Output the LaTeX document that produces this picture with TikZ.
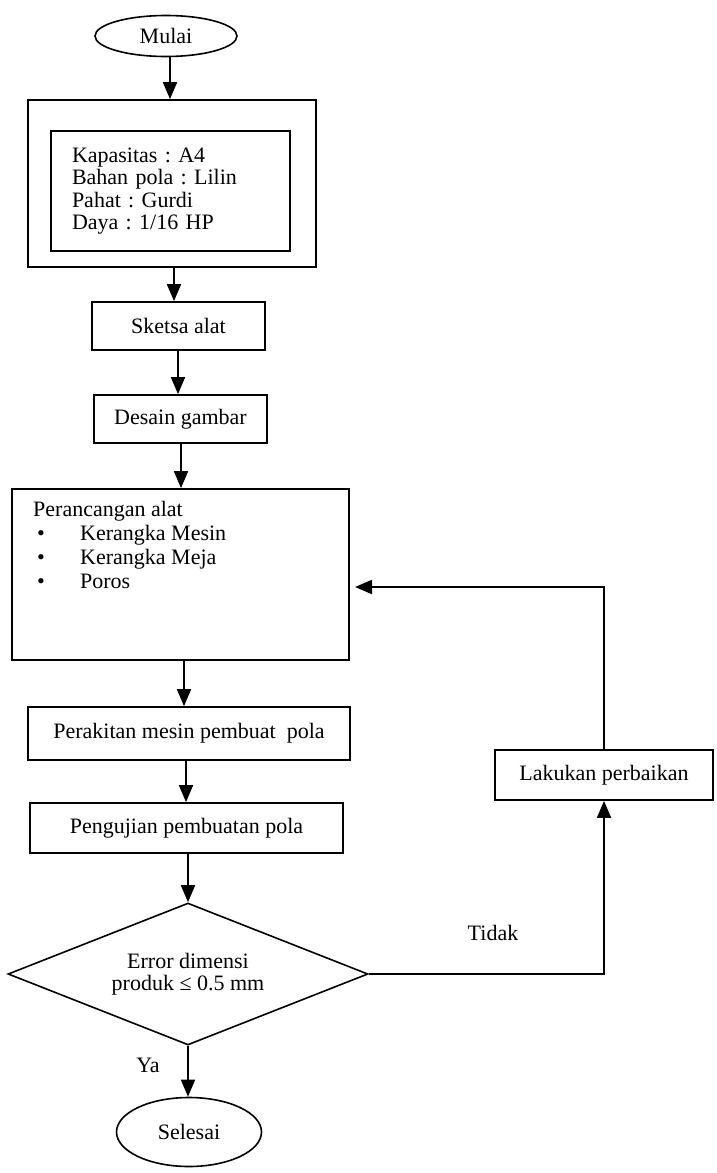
\documentclass[tikz,border=0pt]{standalone}
\usepackage{fontspec}
\setmainfont{Liberation Serif}
\usetikzlibrary{shapes.geometric,arrows.meta,calc}
\begin{document}
\frenchspacing
\begin{tikzpicture}[x=1pt,y=-1pt,
  every node/.style={font=\fontsize{22}{22.5}\selectfont},
  box/.style={draw,line width=1.8pt,rectangle,inner sep=0pt},
  term/.style={draw,line width=1.6pt,ellipse,inner sep=0pt},
  dec/.style={draw,line width=1.6pt,diamond,aspect=2.5,inner sep=0pt,align=center},
  arr/.style={line width=1.8pt,-{Triangle[length=17pt,width=14pt]}},
  lbl/.style={inner sep=0pt}]
\useasboundingbox (0,0) rectangle (716,1173);
\node[term,minimum width=142pt,minimum height=41pt] (mulai) at (166,36) {Mulai};
\node[box,minimum width=288pt,minimum height=167pt] (outer) at (172,183.5) {};
\node[box,minimum width=239pt,minimum height=120pt,align=left,text width=197pt] (inner) at (170.5,191)
  {Kapasitas : A4\\Bahan pola : Lilin\\Pahat : Gurdi\\Daya : 1/16 HP};
\node[box,minimum width=173pt,minimum height=48pt] (sketsa) at (178.5,326) {Sketsa alat};
\node[box,minimum width=173pt,minimum height=48pt] (desain) at (180.5,419) {Desain gambar};
\node[box,minimum width=337pt,minimum height=171pt] (peran) at (180.5,574.5) {};
\node[lbl,anchor=north west,align=left,font=\fontsize{22}{24}\selectfont] (perantext) at (33,501)
  {Perancangan alat\\
   \hspace*{4pt}\makebox[43pt][l]{\textbullet}Kerangka Mesin\\
   \hspace*{4pt}\makebox[43pt][l]{\textbullet}Kerangka Meja\\
   \hspace*{4pt}\makebox[43pt][l]{\textbullet}Poros};
\node[box,minimum width=322pt,minimum height=53pt] (rakit) at (189,733.5) {Perakitan mesin pembuat\ \ pola};
\node[box,minimum width=313pt,minimum height=50pt] (uji) at (186.5,828) {Pengujian pembuatan pola};
\node[dec,minimum width=360pt,minimum height=142pt] (err) at (188,974) {Error dimensi\\produk ≤ 0.5 mm};
\node[term,minimum width=145pt,minimum height=69pt] (selesai) at (189,1132) {Selesai};
\node[box,minimum width=218pt,minimum height=50pt] (lakukan) at (604,775) {Lakukan perbaikan};
\node[lbl] (tidak) at (493,933) {Tidak};
\node[lbl] (ya) at (148,1065) {Ya};
\coordinate (back) at (349,587);

\draw[arr] (mulai.south -| 170,0) -- (170,0 |- outer.north);
\draw[arr] (outer.south -| 174,0) -- (174,0 |- sketsa.north);
\draw[arr] (sketsa.south -| 178,0) -- (178,0 |- desain.north);
\draw[arr] (desain.south -| 181,0) -- (181,0 |- peran.north);
\draw[arr] (peran.south -| 184,0) -- (184,0 |- rakit.north);
\draw[arr] (rakit.south -| 186,0) -- (186,0 |- uji.north);
\draw[arr] (uji.south -| err.north) -- (err.north);
\draw[arr] (err.south) -- (err.south |- selesai.north);
\draw[arr] (err.east) -| (lakukan.south);
\draw[arr,shorten >=6pt] (lakukan.north) |- (back);
\end{tikzpicture}
\end{document}
